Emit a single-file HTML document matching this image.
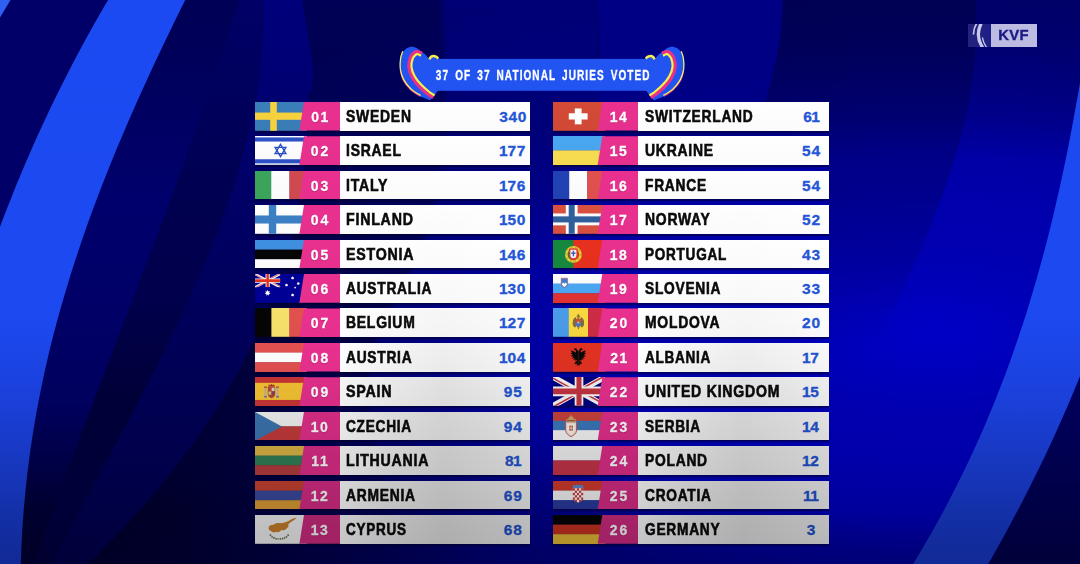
<!DOCTYPE html>
<html lang="en"><head><meta charset="utf-8"><title>Scoreboard</title>
<style>
html,body{margin:0;padding:0;}
body{width:1080px;height:564px;overflow:hidden;position:relative;background:#000056;font-family:"Liberation Sans",sans-serif;}
.bg{position:absolute;left:0;top:0;width:1080px;height:564px;display:block;}
.row{position:absolute;width:275.5px;height:28.8px;}
.rowsh{position:absolute;width:275.5px;height:28.8px;box-shadow:0 1.6px 1.2px rgba(0,0,40,.55);}
.row .flag{position:absolute;left:0;top:0;width:52px;height:28.8px;display:block;}
.row .pink{position:absolute;left:44px;top:0;width:41.5px;height:28.8px;background:#e9308f;clip-path:polygon(5.2px 0,100% 0,100% 100%,0.6px 100%);}
.row .white{position:absolute;left:85px;top:0;right:0;height:28.8px;background:#fff;}
.row .num{position:absolute;left:45.7px;width:39px;top:0;height:28.8px;line-height:30px;text-align:center;color:#fff;font-weight:bold;font-size:15.5px;letter-spacing:2.2px;text-indent:2.2px;-webkit-text-stroke:.3px #fff;text-shadow:0 1px 1px rgba(120,0,70,.45);transform:scaleX(.9);}
.row .name{position:absolute;left:91.6px;top:0;height:28.8px;line-height:29.4px;font-weight:bold;font-size:16.5px;color:#0a0a0a;white-space:nowrap;-webkit-text-stroke:.6px #0a0a0a;letter-spacing:.9px;}
.row .name span{display:inline-block;transform-origin:0 50%;}
.row .dim{position:absolute;left:0;top:0;width:100%;height:100%;}
.row .dimw{position:absolute;left:85px;top:0;right:0;height:100%;}
.row .score{position:absolute;left:232px;width:52px;top:0;height:28.8px;line-height:30px;text-align:center;color:#2456d8;font-weight:bold;font-size:15.5px;letter-spacing:.7px;text-indent:.7px;-webkit-text-stroke:.3px #2456d8;}
.banner{position:absolute;left:396.8px;top:45.600px;width:290px;height:60px;}
.banner svg{position:absolute;left:0;top:0;display:block;}
.btext{position:absolute;left:-105px;top:13.6px;width:500px;height:32px;line-height:32px;text-align:center;color:#fff;font-weight:bold;font-size:14px;letter-spacing:1.5px;text-indent:1.5px;word-spacing:3px;white-space:nowrap;-webkit-text-stroke:.35px #fff;}
.btext span{display:inline-block;transform:scaleX(.716);transform-origin:50% 50%;}
.kvf{position:absolute;left:967.800px;top:23.900px;width:69.200px;height:23px;}
.kvf .kl{position:absolute;left:0;top:0;width:23.200px;height:23px;background:linear-gradient(90deg,#24227c,#1e1e88);overflow:hidden;}
.kvf .kl svg{display:block;}
.kvf .kr{position:absolute;left:23.100px;top:0;width:46.100px;height:23px;background:#bcbce2;text-align:center;line-height:23.400px;color:#1a1a84;font-weight:bold;font-size:14px;}
.kvf .kr span{display:inline-block;transform:scaleX(1.06);letter-spacing:.3px;-webkit-text-stroke:.35px #1a1a84;}
.row .score i{font-style:normal;margin:0 -1px 0 -1.2px;}
.row .num i{font-style:normal;margin:0 -.7px 0 -.5px;}

</style></head>
<body>
<svg class="bg" viewBox="0 0 1080 564" width="1080" height="564">
<defs>
<radialGradient id="gglow" cx="0" cy="0" r="1" gradientUnits="userSpaceOnUse" gradientTransform="translate(935 335) scale(900 380)">
<stop offset="0" stop-color="#0000c6"/><stop offset=".2" stop-color="#0000b0"/><stop offset=".34" stop-color="#0000aa"/><stop offset=".47" stop-color="#0000a0"/><stop offset=".57" stop-color="#000084"/><stop offset=".67" stop-color="#000072"/><stop offset=".8" stop-color="#000060"/><stop offset="1" stop-color="#000056"/>
</radialGradient>
<linearGradient id="gdarkL" x1="60" y1="0" x2="500" y2="0" gradientUnits="userSpaceOnUse">
<stop offset="0" stop-color="#000010" stop-opacity=".55"/><stop offset=".3" stop-color="#000010" stop-opacity=".48"/><stop offset=".65" stop-color="#000010" stop-opacity=".25"/><stop offset="1" stop-color="#000010" stop-opacity="0"/>
</linearGradient>
<linearGradient id="gmaskv" x1="0" y1="0" x2="0" y2="1">
<stop offset=".55" stop-color="#000"/><stop offset=".75" stop-color="#888"/><stop offset=".92" stop-color="#fff"/>
</linearGradient>
<mask id="mL" maskUnits="userSpaceOnUse" x="0" y="0" width="1080" height="564"><rect width="1080" height="564" fill="url(#gmaskv)"/></mask>
<linearGradient id="glb" x1="0" y1="0" x2="0" y2="564" gradientUnits="userSpaceOnUse">
<stop offset="0" stop-color="#1c4af2"/><stop offset=".56" stop-color="#1c49f0"/><stop offset=".71" stop-color="#1b40da"/><stop offset=".96" stop-color="#122c9c"/><stop offset="1" stop-color="#112a96"/>
</linearGradient>
<linearGradient id="gmid" x1="0" y1="0" x2="0" y2="400" gradientUnits="userSpaceOnUse">
<stop offset="0" stop-color="#0000c8" stop-opacity=".12"/><stop offset=".45" stop-color="#0000d0" stop-opacity=".1"/><stop offset=".75" stop-color="#0000d0" stop-opacity=".05"/><stop offset="1" stop-color="#0000d0" stop-opacity="0"/>
</linearGradient>
<linearGradient id="gdkr" x1="0" y1="0" x2="0" y2="345" gradientUnits="userSpaceOnUse">
<stop offset="0" stop-color="#000020" stop-opacity=".14"/><stop offset=".55" stop-color="#000020" stop-opacity=".2"/><stop offset=".8" stop-color="#000020" stop-opacity=".1"/><stop offset="1" stop-color="#000020" stop-opacity="0"/>
</linearGradient>
<linearGradient id="gvig" x1="0" y1="0" x2="0" y2="564" gradientUnits="userSpaceOnUse">
<stop offset=".82" stop-color="#000018" stop-opacity="0"/><stop offset="1" stop-color="#000018" stop-opacity=".07"/>
</linearGradient>
<linearGradient id="gs2b" x1="0" y1="0" x2="1" y2="0">
<stop offset="0" stop-color="#000010" stop-opacity=".27"/><stop offset=".5" stop-color="#000010" stop-opacity=".12"/><stop offset="1" stop-color="#000010" stop-opacity="0"/>
</linearGradient>
<linearGradient id="gdarkC" x1="0" y1="0" x2="0" y2="564" gradientUnits="userSpaceOnUse">
<stop offset="0" stop-color="#000008" stop-opacity="0"/><stop offset=".05" stop-color="#000008" stop-opacity=".02"/><stop offset=".24" stop-color="#000008" stop-opacity=".07"/><stop offset=".42" stop-color="#000008" stop-opacity=".3"/><stop offset=".6" stop-color="#000008" stop-opacity=".34"/><stop offset=".79" stop-color="#000008" stop-opacity=".13"/><stop offset="1" stop-color="#000008" stop-opacity="0"/>
</linearGradient>
<linearGradient id="glightC" x1="0" y1="0" x2="0" y2="265" gradientUnits="userSpaceOnUse">
<stop offset="0" stop-color="#0000c8" stop-opacity=".26"/><stop offset=".25" stop-color="#0000c8" stop-opacity=".25"/><stop offset=".5" stop-color="#0000c8" stop-opacity=".12"/><stop offset=".9" stop-color="#0000c8" stop-opacity="0"/>
</linearGradient>
<filter id="blC" x="-5%" y="-5%" width="110%" height="110%"><feGaussianBlur stdDeviation="2.500"/></filter>
<linearGradient id="gcorner" x1="0" y1="370" x2="0" y2="564" gradientUnits="userSpaceOnUse">
<stop offset="0" stop-color="#00005c"/><stop offset=".3" stop-color="#000056"/><stop offset="1" stop-color="#00003a"/>
</linearGradient>
<linearGradient id="gstripe" x1="0" y1="0" x2="0" y2="564" gradientUnits="userSpaceOnUse">
<stop offset="0" stop-color="#000056"/><stop offset=".06" stop-color="#000058"/><stop offset=".35" stop-color="#00006c"/><stop offset=".53" stop-color="#000068"/><stop offset=".71" stop-color="#00005e"/><stop offset=".82" stop-color="#000046"/><stop offset=".9" stop-color="#000030"/><stop offset="1" stop-color="#000028"/>
</linearGradient>
<linearGradient id="gdk1" x1="0" y1="0" x2="0" y2="564" gradientUnits="userSpaceOnUse">
<stop offset="0" stop-color="#000066"/><stop offset=".06" stop-color="#000064"/><stop offset=".35" stop-color="#000050"/><stop offset=".53" stop-color="#00004c"/><stop offset=".71" stop-color="#000038"/><stop offset=".9" stop-color="#00003a"/><stop offset="1" stop-color="#000032"/>
</linearGradient>
<linearGradient id="gl2" x1="0" y1="0" x2="0" y2="564" gradientUnits="userSpaceOnUse">
<stop offset="0" stop-color="#00007a"/><stop offset=".06" stop-color="#000078"/><stop offset=".35" stop-color="#000066"/><stop offset=".71" stop-color="#000052"/><stop offset=".9" stop-color="#000046"/><stop offset="1" stop-color="#00003c"/>
</linearGradient>
</defs>
<rect width="1080" height="564" fill="#000056"/>
<rect width="1080" height="564" fill="url(#gglow)"/>
<rect width="1080" height="564" fill="url(#gdarkL)" mask="url(#mL)"/>
<path d="M442,-6 C442.3,1.7 443.2,16.8 444.0,40.0 C444.8,63.2 448.0,108.0 447.0,133.0 C446.0,158.0 441.7,172.7 438.0,190.0 C434.3,207.3 431.0,220.3 425.0,237.0 C419.0,253.7 410.2,272.8 402.0,290.0 C393.8,307.2 381.3,323.3 376.0,340.0 C370.7,356.7 370.0,372.5 370.0,390.0 C370.0,407.5 372.3,425.0 376.0,445.0 C379.7,465.0 387.2,489.2 392.0,510.0 C396.8,530.8 402.8,560.0 405.0,570.0 L-6,570 L-6,-6 Z" fill="url(#gdarkC)" filter="url(#blC)"/>
<path d="M442,-6 C442.3,1.7 443.2,16.8 444.0,40.0 C444.8,63.2 448.0,108.0 447.0,133.0 C446.0,158.0 441.7,172.7 438.0,190.0 C434.3,207.3 428.8,224.5 425.0,237.0 C421.2,249.5 416.7,260.3 415.0,265.0 L600,265 L600,-6 Z" fill="url(#glightC)" filter="url(#blC)"/>
<path d="M274.7,290.0 L270.1,302.2 L265.3,314.3 L260.1,326.5 L254.6,338.7 L248.7,350.9 L242.5,363.0 L236.0,375.2 L229.1,387.4 L221.9,399.6 L214.3,411.7 L206.4,423.9 L198.1,436.1 L189.4,448.3 L180.4,460.4 L171.0,472.6 L161.2,484.8 L151.0,497.0 L140.4,509.1 L129.5,521.3 L118.1,533.5 L106.4,545.7 L94.2,557.8 L81.6,570.0 L470,570 L470,290 Z" fill="url(#gs2b)"/>
<path d="M263.5,-6.0 L263.8,6.0 L263.7,18.0 L263.4,30.0 L262.7,42.0 L261.7,54.0 L260.5,66.0 L258.9,78.0 L257.1,90.0 L255.0,102.0 L252.6,114.0 L250.0,126.0 L247.1,138.0 L244.0,150.0 L240.7,162.0 L237.1,174.0 L233.4,186.0 L229.4,198.0 L225.2,210.0 L220.8,222.0 L216.3,234.0 L211.5,246.0 L206.7,258.0 L201.6,270.0 L196.4,282.0 L191.1,294.0 L185.6,306.0 L180.0,318.0 L174.3,330.0 L168.4,342.0 L162.5,354.0 L156.5,366.0 L150.4,378.0 L144.2,390.0 L137.9,402.0 L131.6,414.0 L125.3,426.0 L118.9,438.0 L112.4,450.0 L106.0,462.0 L99.5,474.0 L93.0,486.0 L86.5,498.0 L80.0,510.0 L73.5,522.0 L67.0,534.0 L60.6,546.0 L54.2,558.0 L47.9,570.0 L90,570 L81.6,570.0 L94.2,557.8 L106.4,545.6 L118.1,533.5 L129.5,521.3 L140.5,509.1 L151.0,496.9 L161.2,484.7 L171.0,472.6 L180.4,460.4 L189.5,448.2 L198.1,436.0 L206.4,423.8 L214.4,411.7 L221.9,399.5 L229.2,387.3 L236.0,375.1 L242.6,362.9 L248.8,350.8 L254.6,338.6 L260.1,326.4 L265.3,314.2 L270.2,302.1 L274.8,289.9 L279.0,277.7 L282.9,265.5 L286.6,253.3 L289.9,241.2 L292.9,229.0 L295.7,216.8 L298.1,204.6 L300.3,192.4 L302.2,180.3 L303.8,168.1 L305.2,155.9 L306.3,143.7 L307.1,131.5 L307.7,119.4 L308.0,107.2 L308.1,95.0 C309.7,94.3 314.2,87.5 313.0,71.0 C311.8,54.5 304.2,13.5 302.0,0.0 C299.8,-13.5 300.3,-8.3 300.0,-10.0 Z" fill="url(#gl2)"/>
<path d="M240.9,-6.0 L237.2,6.0 L233.5,18.0 L229.7,30.0 L225.8,42.0 L221.9,54.0 L217.9,66.0 L213.8,78.0 L209.8,90.0 L205.6,102.0 L201.4,114.0 L197.2,126.0 L192.9,138.0 L188.6,150.0 L184.3,162.0 L179.9,174.0 L175.5,186.0 L171.1,198.0 L166.6,210.0 L162.1,222.0 L157.6,234.0 L153.1,246.0 L148.5,258.0 L143.9,270.0 L139.3,282.0 L134.8,294.0 L130.2,306.0 L125.5,318.0 L120.9,330.0 L116.3,342.0 L111.7,354.0 L107.1,366.0 L102.5,378.0 L97.9,390.0 L93.3,402.0 L88.8,414.0 L84.2,426.0 L79.7,438.0 L75.1,450.0 L70.7,462.0 L66.2,474.0 L61.7,486.0 L57.3,498.0 L53.0,510.0 L48.6,522.0 L44.3,534.0 L40.0,546.0 L35.8,558.0 L31.6,570.0 L47.9,570.0 L54.2,558.0 L60.6,546.0 L67.0,534.0 L73.5,522.0 L80.0,510.0 L86.5,498.0 L93.0,486.0 L99.5,474.0 L106.0,462.0 L112.4,450.0 L118.9,438.0 L125.3,426.0 L131.6,414.0 L137.9,402.0 L144.2,390.0 L150.4,378.0 L156.5,366.0 L162.5,354.0 L168.4,342.0 L174.3,330.0 L180.0,318.0 L185.6,306.0 L191.1,294.0 L196.4,282.0 L201.6,270.0 L206.7,258.0 L211.5,246.0 L216.3,234.0 L220.8,222.0 L225.2,210.0 L229.4,198.0 L233.4,186.0 L237.1,174.0 L240.7,162.0 L244.0,150.0 L247.1,138.0 L250.0,126.0 L252.6,114.0 L255.0,102.0 L257.1,90.0 L258.9,78.0 L260.5,66.0 L261.7,54.0 L262.7,42.0 L263.4,30.0 L263.7,18.0 L263.8,6.0 L263.5,-6.0 Z" fill="url(#gdk1)"/>
<path d="M240.9,-6.0 L237.2,6.0 L233.5,18.0 L229.7,30.0 L225.8,42.0 L221.9,54.0 L217.9,66.0 L213.8,78.0 L209.8,90.0 L205.6,102.0 L201.4,114.0 L197.2,126.0 L192.9,138.0 L188.6,150.0 L184.3,162.0 L179.9,174.0 L175.5,186.0 L171.1,198.0 L166.6,210.0 L162.1,222.0 L157.6,234.0 L153.1,246.0 L148.5,258.0 L143.9,270.0 L139.3,282.0 L134.8,294.0 L130.2,306.0 L125.5,318.0 L120.9,330.0 L116.3,342.0 L111.7,354.0 L107.1,366.0 L102.5,378.0 L97.9,390.0 L93.3,402.0 L88.8,414.0 L84.2,426.0 L79.7,438.0 L75.1,450.0 L70.7,462.0 L66.2,474.0 L61.7,486.0 L57.3,498.0 L53.0,510.0 L48.6,522.0 L44.3,534.0 L40.0,546.0 L35.8,558.0 L31.6,570.0 L20.7,570.0 L21.0,558.0 L21.5,546.0 L22.1,534.0 L22.8,522.0 L23.7,510.0 L24.8,498.0 L26.0,486.0 L27.3,474.0 L28.8,462.0 L30.4,450.0 L32.2,438.0 L34.1,426.0 L36.2,414.0 L38.4,402.0 L40.8,390.0 L43.3,378.0 L45.9,366.0 L48.7,354.0 L51.6,342.0 L54.7,330.0 L57.9,318.0 L61.3,306.0 L64.8,294.0 L68.4,282.0 L72.1,270.0 L76.0,258.0 L80.0,246.0 L84.1,234.0 L88.3,222.0 L92.7,210.0 L97.2,198.0 L101.8,186.0 L106.5,174.0 L111.3,162.0 L116.2,150.0 L121.3,138.0 L126.4,126.0 L131.6,114.0 L136.9,102.0 L142.3,90.0 L147.8,78.0 L153.3,66.0 L159.0,54.0 L164.7,42.0 L170.5,30.0 L176.3,18.0 L182.2,6.0 L188.1,-6.0 Z" fill="url(#gstripe)"/>
<path d="M-6,-6 L111.7,-6.0 L104.5,6.1 L97.6,18.1 L90.7,30.2 L84.1,42.2 L77.6,54.2 L71.3,66.3 L65.1,78.4 L59.0,90.4 L53.1,102.5 L47.4,114.5 L41.8,126.6 L36.3,138.6 L30.9,150.7 L25.7,162.7 L20.6,174.8 L15.6,186.8 L10.8,198.9 L6.0,210.9 L1.4,223.0 L-3.1,235.0 L-6,240 Z" fill="#000068"/>
<path d="M596,-10 C596.3,-8.3 597.3,-10.0 598.0,0.0 C598.7,10.0 599.8,32.0 600.0,50.0 C600.2,68.0 599.2,98.3 599.0,108.0 L764,108 C766.4,98.0 775.3,66.0 778.5,48.0 C781.7,30.0 782.1,9.7 783.0,0.0 C783.9,-9.7 783.8,-8.3 784.0,-10.0 Z" fill="#000088" opacity=".92"/>
<path d="M975.1,-6.0 L975.9,6.3 L976.3,18.6 L976.2,30.9 L975.8,43.2 L975.0,55.5 L973.8,67.8 L972.3,80.1 L970.4,92.4 L968.1,104.7 L965.6,117.0 L962.7,129.3 L959.5,141.6 L956.1,153.9 L952.3,166.2 L948.3,178.5 L944.1,190.8 L939.7,203.2 L935.0,215.5 L930.1,227.8 L925.0,240.1 L919.7,252.4 L914.3,264.7 L908.7,277.0 L902.9,289.3 L897.1,301.6 L891.1,313.9 L885.0,326.2 L878.8,338.5 L872.6,350.8 L866.2,363.1 L859.8,375.4 L853.4,387.7 L847.0,400.0 L1095,400 L1095,-6 Z" fill="url(#gmid)"/>
<path d="M975.1,-6.0 L975.9,6.1 L976.3,18.2 L976.2,30.3 L975.9,42.4 L975.1,54.5 L973.9,66.6 L972.5,78.7 L970.6,90.8 L968.5,102.9 L966.0,115.0 L963.2,127.1 L960.2,139.2 L956.8,151.3 L953.2,163.4 L949.3,175.6 L945.2,187.7 L940.9,199.8 L936.4,211.9 L931.6,224.0 L926.7,236.1 L921.5,248.2 L916.2,260.3 L910.8,272.4 L905.2,284.5 L899.5,296.6 L893.6,308.7 L887.7,320.8 L881.6,332.9 L875.5,345.0 L829,345 L829,108 L764,108 C766.4,98.0 775.3,66.0 778.5,48.0 C781.7,30.0 782.1,9.7 783.0,0.0 C783.9,-9.7 783.8,-8.3 784.0,-10.0 Z" fill="url(#gdkr)"/>
<rect width="1080" height="564" fill="url(#gvig)"/>
<path d="M111.7,-6.0 L104.5,6.1 L97.6,18.1 L90.7,30.2 L84.1,42.2 L77.6,54.2 L71.3,66.3 L65.1,78.4 L59.0,90.4 L53.1,102.5 L47.4,114.5 L41.8,126.6 L36.3,138.6 L30.9,150.7 L25.7,162.7 L20.6,174.8 L15.6,186.8 L10.8,198.9 L6.0,210.9 L1.4,223.0 L-3.1,235.0 L-6,240 L-6,570 L20.7,570.0 L21.0,558.0 L21.5,546.0 L22.1,534.0 L22.8,522.0 L23.7,510.0 L24.8,498.0 L26.0,486.0 L27.3,474.0 L28.8,462.0 L30.4,450.0 L32.2,438.0 L34.1,426.0 L36.2,414.0 L38.4,402.0 L40.8,390.0 L43.3,378.0 L45.9,366.0 L48.7,354.0 L51.6,342.0 L54.7,330.0 L57.9,318.0 L61.3,306.0 L64.8,294.0 L68.4,282.0 L72.1,270.0 L76.0,258.0 L80.0,246.0 L84.1,234.0 L88.3,222.0 L92.7,210.0 L97.2,198.0 L101.8,186.0 L106.5,174.0 L111.3,162.0 L116.2,150.0 L121.3,138.0 L126.4,126.0 L131.6,114.0 L136.9,102.0 L142.3,90.0 L147.8,78.0 L153.3,66.0 L159.0,54.0 L164.7,42.0 L170.5,30.0 L176.3,18.0 L182.2,6.0 L188.1,-6.0 Z" fill="url(#glb)"/>
<path d="M0,0 L10.500,0 L0,17.500 Z" fill="#2f60f2"/>
<path d="M1082.1,70.0 L1080.1,82.2 L1078.0,94.4 L1075.8,106.6 L1073.6,118.8 L1071.3,131.0 L1069.0,143.2 L1066.5,155.4 L1064.0,167.6 L1061.4,179.8 L1058.7,192.0 L1055.9,204.1 L1053.1,216.3 L1050.1,228.5 L1047.0,240.7 L1043.8,252.9 L1040.5,265.1 L1037.1,277.3 L1033.5,289.5 L1029.9,301.7 L1026.1,313.9 L1022.2,326.1 L1018.1,338.3 L1013.9,350.5 L1009.6,362.7 L1005.1,374.9 L1000.4,387.1 L995.6,399.3 L990.6,411.5 L985.5,423.7 L980.2,435.9 L974.7,448.0 L969.1,460.2 L963.2,472.4 L957.2,484.6 L951.0,496.8 L944.6,509.0 L938.0,521.2 L931.1,533.4 L924.1,545.6 L916.9,557.8 L909.5,570.0 L984.9,570.0 L992.1,557.5 L999.1,545.0 L1006.0,532.5 L1012.7,520.0 L1019.4,507.5 L1025.8,495.0 L1032.1,482.5 L1038.3,470.0 L1044.4,457.5 L1050.3,445.0 L1056.0,432.5 L1061.6,420.0 L1067.1,407.5 L1072.4,395.0 L1077.6,382.5 L1082.7,370.0 L1090,370 L1090,70 Z" fill="url(#glb)"/>
<path d="M984.9,570.0 L992.1,557.5 L999.1,545.0 L1006.0,532.5 L1012.7,520.0 L1019.4,507.5 L1025.8,495.0 L1032.1,482.5 L1038.3,470.0 L1044.4,457.5 L1050.3,445.0 L1056.0,432.5 L1061.6,420.0 L1067.1,407.5 L1072.4,395.0 L1077.6,382.5 L1082.7,370.0 L1090,370 L1090,580 Z" fill="url(#gcorner)"/>
</svg>
<div class="banner">
<svg viewBox="0 0 290 60" width="290" height="60">
<defs>
<g id="heart">
<path d="M32.8,54.4 C31.7,53.9 28.2,52.6 26.0,51.6 C23.8,50.6 22.0,50.2 19.5,48.5 C17.0,46.8 13.5,43.9 11.0,41.1 C8.5,38.3 6.0,35.4 4.6,31.5 C3.2,27.6 2.7,21.5 2.7,17.7 C2.7,13.9 3.5,11.0 4.6,8.5 C5.6,6.0 7.4,4.1 9.0,2.8 C10.6,1.5 12.5,0.9 14.2,0.7 C15.9,0.5 17.6,1.2 19.0,1.8 C20.4,2.4 21.0,3.2 22.7,4.4 C24.4,5.6 27.6,7.7 29.1,9.2 C30.6,10.7 31.4,12.5 31.9,13.2 C32.1,12.8 32.6,11.3 33.4,10.6 C34.2,9.9 35.4,9.2 36.5,9.2 C37.6,9.2 39.0,9.8 40.0,10.4 C41.0,11.0 42.1,12.5 42.5,12.9 L42.5,44.8 L40.2,45.2 C39.8,45.9 38.7,48.0 37.5,49.5 C36.3,51.0 33.6,53.6 32.8,54.4 Z" fill="#2254f2"/>
<path d="M3.2,24 C3.7,25.7 4.5,30.9 6.2,34.2 C7.9,37.5 10.8,41.1 13.6,43.8 C16.4,46.5 21.4,49.1 23.0,50.2" fill="none" stroke="#e9308f" stroke-width="1.1"/>
<path d="M5.8,5.2 C5.4,6.4 4.0,9.4 3.6,12.4 C3.2,15.4 2.8,19.5 3.3,23.0 C3.8,26.5 4.9,30.2 6.7,33.6 C8.5,37.0 11.4,40.6 14.2,43.2 C17.0,45.8 22.1,48.4 23.7,49.4" fill="none" stroke="#f7f060" stroke-width="1.25"/>
<path d="M25,7.2 C24.3,6.9 22.3,5.7 21.0,5.6 C19.7,5.5 18.6,5.5 17.3,6.5 C16.0,7.5 14.3,9.1 13.4,11.5 C12.5,13.9 11.5,17.6 11.8,20.9 C12.1,24.2 13.6,28.1 15.4,31.5 C17.2,34.9 20.3,38.3 22.9,41.1 C25.5,43.9 29.0,46.5 31.2,48.3 C33.4,50.0 35.4,51.0 36.2,51.6" fill="none" stroke="#ea2f86" stroke-width="3.3"/>
<path d="M24.03,9.61 C23.5,9.4 21.6,8.4 20.8,8.2 C19.9,8.0 19.7,7.8 18.9,8.6 C18.1,9.3 16.6,10.4 15.8,12.4 C15.1,14.4 14.1,17.7 14.4,20.6 C14.7,23.6 15.9,27.1 17.7,30.2 C19.4,33.4 22.3,36.7 24.8,39.3 C27.3,42.0 30.7,44.6 32.8,46.3 C35.0,47.9 36.8,48.9 37.6,49.4" fill="none" stroke="#f8f04a" stroke-width="2.2"/>
<path d="M32.4,13.4 C32.6,13.0 33.1,11.6 33.8,11.0 C34.5,10.4 35.5,9.9 36.5,9.9 C37.5,9.9 38.7,10.5 39.5,10.9 C40.3,11.3 40.9,12.3 41.2,12.6" fill="none" stroke="#f4ee50" stroke-width="2.5"/>
</g>
</defs>
<rect x="40" y="12.9" width="210" height="31.9" fill="#2254f2"/>
<use href="#heart"/>
<use href="#heart" transform="translate(290,0) scale(-1,1)"/>
</svg>
<div class="btext"><span>37 OF 37 NATIONAL JURIES VOTED</span></div>
</div>

<div class="rowsh" style="left:254.8px;top:101.8px"></div><div class="row" style="left:254.8px;top:101.8px">
<svg class="flag" viewBox="0 0 52 28.6" preserveAspectRatio="none"><rect x="0" y="0" width="52" height="28.6" fill="#3a7db8"/><rect x="15.2" y="0" width="6.6" height="28.6" fill="#f7d23e"/><rect x="0" y="10.5" width="52" height="7.2" fill="#f7d23e"/></svg>
<div class="pink" style="background:rgb(233,48,143)"></div><div class="white"></div>
<div class="num">0<i>1</i></div><div class="name"><span style="transform:scaleX(0.8442)">SWEDEN</span></div><div class="score">340</div>
<div class="dim" style="background:linear-gradient(180deg,rgba(0,0,8,0.000),rgba(0,0,8,0.012))"></div><div class="dimw" style="background:linear-gradient(90deg,rgba(0,0,0,0) 0%,rgba(0,0,0,0.002) 25%,rgba(0,0,0,0.004) 55%,rgba(0,0,0,0.002) 80%,rgba(0,0,0,0.000) 100%)"></div>
</div>
<div class="rowsh" style="left:254.8px;top:136.2px"></div><div class="row" style="left:254.8px;top:136.2px">
<svg class="flag" viewBox="0 0 52 28.6" preserveAspectRatio="none"><rect x="0" y="0" width="52" height="28.6" fill="#fdfdfd"/><rect x="0" y="1.4" width="52" height="4.1" fill="#2c50c6"/><rect x="0" y="23.1" width="52" height="4.1" fill="#2c50c6"/><g fill="none" stroke="#2c50c6" stroke-width="1.400"><polygon points="25.500,8.400 30.900,17.500 20.100,17.500"/><polygon points="25.500,20.400 30.900,11.300 20.100,11.300"/></g></svg>
<div class="pink" style="background:rgb(233,48,143)"></div><div class="white"></div>
<div class="num">02</div><div class="name"><span style="transform:scaleX(0.8448)">ISRAEL</span></div><div class="score"><i>1</i>77</div>
<div class="dim" style="background:linear-gradient(180deg,rgba(0,0,8,0.000),rgba(0,0,8,0.012))"></div><div class="dimw" style="background:linear-gradient(90deg,rgba(0,0,0,0) 0%,rgba(0,0,0,0.002) 25%,rgba(0,0,0,0.004) 55%,rgba(0,0,0,0.002) 80%,rgba(0,0,0,0.000) 100%)"></div>
</div>
<div class="rowsh" style="left:254.8px;top:170.6px"></div><div class="row" style="left:254.8px;top:170.6px">
<svg class="flag" viewBox="0 0 52 28.6" preserveAspectRatio="none"><rect x="0" y="0" width="16.5" height="28.6" fill="#3aa55a"/><rect x="16.2" y="0" width="18.5" height="28.6" fill="#fdfdfd"/><rect x="34.4" y="0" width="18.3" height="28.6" fill="#cf4a50"/></svg>
<div class="pink" style="background:rgb(233,48,143)"></div><div class="white"></div>
<div class="num">03</div><div class="name"><span style="transform:scaleX(0.8528)">ITALY</span></div><div class="score"><i>1</i>76</div>
<div class="dim" style="background:linear-gradient(180deg,rgba(0,0,8,0.000),rgba(0,0,8,0.012))"></div><div class="dimw" style="background:linear-gradient(90deg,rgba(0,0,0,0) 0%,rgba(0,0,0,0.002) 25%,rgba(0,0,0,0.004) 55%,rgba(0,0,0,0.002) 80%,rgba(0,0,0,0.000) 100%)"></div>
</div>
<div class="rowsh" style="left:254.8px;top:205.1px"></div><div class="row" style="left:254.8px;top:205.1px">
<svg class="flag" viewBox="0 0 52 28.6" preserveAspectRatio="none"><rect x="0" y="0" width="52" height="28.6" fill="#fdfdfd"/><rect x="13.8" y="0" width="7.4" height="28.6" fill="#3b7fc4"/><rect x="0" y="10.4" width="52" height="8" fill="#3b7fc4"/></svg>
<div class="pink" style="background:rgb(233,48,143)"></div><div class="white"></div>
<div class="num">04</div><div class="name"><span style="transform:scaleX(0.8598)">FINLAND</span></div><div class="score"><i>1</i>50</div>
<div class="dim" style="background:linear-gradient(180deg,rgba(0,0,8,0.000),rgba(0,0,8,0.012))"></div><div class="dimw" style="background:linear-gradient(90deg,rgba(0,0,0,0) 0%,rgba(0,0,0,0.004) 25%,rgba(0,0,0,0.008) 55%,rgba(0,0,0,0.004) 80%,rgba(0,0,0,0.000) 100%)"></div>
</div>
<div class="rowsh" style="left:254.8px;top:239.5px"></div><div class="row" style="left:254.8px;top:239.5px">
<svg class="flag" viewBox="0 0 52 28.6" preserveAspectRatio="none"><rect x="0" y="0" width="52" height="9.83" fill="#3f8fe0"/><rect x="0" y="9.53" width="52" height="9.83" fill="#050505"/><rect x="0" y="19.07" width="52" height="9.83" fill="#fdfdfd"/></svg>
<div class="pink" style="background:rgb(233,48,143)"></div><div class="white"></div>
<div class="num">05</div><div class="name"><span style="transform:scaleX(0.8605)">ESTONIA</span></div><div class="score"><i>1</i>46</div>
<div class="dim" style="background:linear-gradient(180deg,rgba(0,0,8,0.000),rgba(0,0,8,0.012))"></div><div class="dimw" style="background:linear-gradient(90deg,rgba(0,0,0,0) 0%,rgba(0,0,0,0.004) 25%,rgba(0,0,0,0.008) 55%,rgba(0,0,0,0.004) 80%,rgba(0,0,0,0.000) 100%)"></div>
</div>
<div class="rowsh" style="left:254.8px;top:273.9px"></div><div class="row" style="left:254.8px;top:273.9px">
<svg class="flag" viewBox="0 0 52 28.6" preserveAspectRatio="none"><rect x="0" y="0" width="52" height="28.6" fill="#000096"/><svg x="0" y="0" width="25.3" height="13.2" viewBox="0 0 60 30" preserveAspectRatio="none"><rect width="60" height="30" fill="#000096"/><path d="M0,0 L60,30 M60,0 L0,30" stroke="#f4f4f4" stroke-width="5.5"/><path d="M0,1.2 L27.600,15 M60,-1.2 L32.400,12.600 M0,31.200 L27.600,17.400 M60,28.800 L32.400,15" stroke="#e2321e" stroke-width="1.6"/><path d="M30,0 V30 M0,15 H60" stroke="#f4f4f4" stroke-width="10"/><path d="M30,0 V30 M0,15 H60" stroke="#e2321e" stroke-width="5.800"/></svg><polygon points="12.60,15.70 13.27,17.40 15.02,16.87 14.11,18.46 15.62,19.49 13.81,19.77 13.95,21.59 12.60,20.35 11.25,21.59 11.39,19.77 9.58,19.49 11.09,18.46 10.18,16.87 11.93,17.40" fill="#fff"/><polygon points="37.60,2.30 38.04,3.08 38.93,2.94 38.59,3.77 39.26,4.38 38.40,4.64 38.34,5.53 37.60,5.02 36.86,5.53 36.80,4.64 35.94,4.38 36.61,3.77 36.27,2.94 37.16,3.08" fill="#fff"/><polygon points="31.50,9.30 31.94,10.08 32.83,9.94 32.49,10.77 33.16,11.38 32.30,11.64 32.24,12.53 31.50,12.02 30.76,12.53 30.70,11.64 29.84,11.38 30.51,10.77 30.17,9.94 31.06,10.08" fill="#fff"/><polygon points="43.30,7.80 43.74,8.58 44.63,8.44 44.29,9.27 44.96,9.88 44.10,10.14 44.04,11.03 43.30,10.52 42.56,11.03 42.50,10.14 41.64,9.88 42.31,9.27 41.97,8.44 42.86,8.58" fill="#fff"/><polygon points="37.60,19.20 38.04,19.98 38.93,19.84 38.59,20.67 39.26,21.28 38.40,21.54 38.34,22.43 37.60,21.92 36.86,22.43 36.80,21.54 35.94,21.28 36.61,20.67 36.27,19.84 37.16,19.98" fill="#fff"/><polygon points="40.10,12.40 40.49,12.97 41.15,13.16 40.73,13.70 40.75,14.39 40.10,14.16 39.45,14.39 39.47,13.70 39.05,13.16 39.71,12.97" fill="#fff"/></svg>
<div class="pink" style="background:rgb(233,48,143)"></div><div class="white"></div>
<div class="num">06</div><div class="name"><span style="transform:scaleX(0.8326)">AUSTRALIA</span></div><div class="score"><i>1</i>30</div>
<div class="dim" style="background:linear-gradient(180deg,rgba(0,0,8,0.000),rgba(0,0,8,0.012))"></div><div class="dimw" style="background:linear-gradient(90deg,rgba(0,0,0,0) 0%,rgba(0,0,0,0.009) 25%,rgba(0,0,0,0.016) 55%,rgba(0,0,0,0.010) 80%,rgba(0,0,0,0.004) 100%)"></div>
</div>
<div class="rowsh" style="left:254.8px;top:308.4px"></div><div class="row" style="left:254.8px;top:308.4px">
<svg class="flag" viewBox="0 0 52 28.6" preserveAspectRatio="none"><rect x="0" y="0" width="16.7" height="28.6" fill="#050505"/><rect x="16.4" y="0" width="18.3" height="28.6" fill="#f6e06c"/><rect x="34.4" y="0" width="18.3" height="28.6" fill="#e0504f"/></svg>
<div class="pink" style="background:rgb(233,48,143)"></div><div class="white"></div>
<div class="num">07</div><div class="name"><span style="transform:scaleX(0.8444)">BELGIUM</span></div><div class="score"><i>1</i>27</div>
<div class="dim" style="background:linear-gradient(180deg,rgba(0,0,8,0.000),rgba(0,0,8,0.012))"></div><div class="dimw" style="background:linear-gradient(90deg,rgba(0,0,0,0) 0%,rgba(0,0,0,0.019) 25%,rgba(0,0,0,0.035) 55%,rgba(0,0,0,0.024) 80%,rgba(0,0,0,0.012) 100%)"></div>
</div>
<div class="rowsh" style="left:254.8px;top:342.8px"></div><div class="row" style="left:254.8px;top:342.8px">
<svg class="flag" viewBox="0 0 52 28.6" preserveAspectRatio="none"><rect x="0" y="0" width="52" height="9.83" fill="#e0504f"/><rect x="0" y="9.53" width="52" height="9.83" fill="#fdfdfd"/><rect x="0" y="19.07" width="52" height="9.83" fill="#e0504f"/></svg>
<div class="pink" style="background:rgb(232,48,142)"></div><div class="white"></div>
<div class="num">08</div><div class="name"><span style="transform:scaleX(0.8328)">AUSTRIA</span></div><div class="score"><i>1</i>04</div>
<div class="dim" style="background:linear-gradient(180deg,rgba(0,0,8,0.000),rgba(0,0,8,0.024))"></div><div class="dimw" style="background:linear-gradient(90deg,rgba(0,0,0,0) 0%,rgba(0,0,0,0.035) 25%,rgba(0,0,0,0.063) 55%,rgba(0,0,0,0.044) 80%,rgba(0,0,0,0.024) 100%)"></div>
</div>
<div class="rowsh" style="left:254.8px;top:377.3px"></div><div class="row" style="left:254.8px;top:377.3px">
<svg class="flag" viewBox="0 0 52 28.6" preserveAspectRatio="none"><rect x="0" y="0" width="52" height="6.1" fill="#c93535"/><rect x="0" y="5.8" width="52" height="17.3" fill="#f4c232"/><rect x="0" y="22.8" width="52" height="6.1" fill="#c93535"/><g><rect x="9.6" y="10.4" width="1.8" height="8.8" fill="#b8b0a0"/><rect x="21.6" y="10.4" width="1.8" height="8.8" fill="#b8b0a0"/><rect x="9" y="9.4" width="3" height="1.4" fill="#b05a3a"/><rect x="21" y="9.4" width="3" height="1.4" fill="#b05a3a"/><rect x="9" y="18.8" width="3" height="1.6" fill="#6a7ab0"/><rect x="21" y="18.8" width="3" height="1.6" fill="#6a7ab0"/><path d="M12.8,10 h7.400 v6.800 c0,2.400 -1.800,3.800 -3.700,4.200 c-1.900,-0.400 -3.700,-1.800 -3.700,-4.200 z" fill="#a84a30"/><rect x="13.400" y="10.600" width="3" height="3.400" fill="#c04a3a"/><rect x="16.600" y="10.600" width="3" height="3.400" fill="#d8d0c0"/><rect x="13.400" y="14.400" width="3" height="3.200" fill="#d8c070"/><rect x="16.600" y="14.400" width="3" height="3.200" fill="#8a3a70"/><path d="M13.200,9.800 l0.600,-2.600 l1.300,1 l1.400,-1.400 l1.400,1.400 l1.300,-1 l0.600,2.600 z" fill="#a83a2a"/></g></svg>
<div class="pink" style="background:rgb(228,47,140)"></div><div class="white"></div>
<div class="num">09</div><div class="name"><span style="transform:scaleX(0.8643)">SPAIN</span></div><div class="score">95</div>
<div class="dim" style="background:linear-gradient(180deg,rgba(0,0,8,0.039),rgba(0,0,8,0.063))"></div><div class="dimw" style="background:linear-gradient(90deg,rgba(0,0,0,0) 0%,rgba(0,0,0,0.045) 25%,rgba(0,0,0,0.083) 55%,rgba(0,0,0,0.058) 80%,rgba(0,0,0,0.033) 100%)"></div>
</div>
<div class="rowsh" style="left:254.8px;top:411.7px"></div><div class="row" style="left:254.8px;top:411.7px">
<svg class="flag" viewBox="0 0 52 28.6" preserveAspectRatio="none"><rect x="0" y="0" width="52" height="14.5" fill="#f2f2f2"/><rect x="0" y="14.3" width="52" height="14.3" fill="#c23a3a"/><polygon points="0,0 27,14.3 0,28.6" fill="#3b74ae"/></svg>
<div class="pink" style="background:rgb(224,46,137)"></div><div class="white"></div>
<div class="num"><i>1</i>0</div><div class="name"><span style="transform:scaleX(0.8271)">CZECHIA</span></div><div class="score">94</div>
<div class="dim" style="background:linear-gradient(180deg,rgba(0,0,8,0.078),rgba(0,0,8,0.102))"></div><div class="dimw" style="background:linear-gradient(90deg,rgba(0,0,0,0) 0%,rgba(0,0,0,0.057) 25%,rgba(0,0,0,0.103) 55%,rgba(0,0,0,0.073) 80%,rgba(0,0,0,0.043) 100%)"></div>
</div>
<div class="rowsh" style="left:254.8px;top:446.1px"></div><div class="row" style="left:254.8px;top:446.1px">
<svg class="flag" viewBox="0 0 52 28.6" preserveAspectRatio="none"><rect x="0" y="0" width="52" height="9.83" fill="#dcb544"/><rect x="0" y="9.53" width="52" height="9.83" fill="#2f7f55"/><rect x="0" y="19.07" width="52" height="9.83" fill="#b33c3c"/></svg>
<div class="pink" style="background:rgb(219,45,134)"></div><div class="white"></div>
<div class="num"><i>1</i><i>1</i></div><div class="name"><span style="transform:scaleX(0.8585)">LITHUANIA</span></div><div class="score">8<i>1</i></div>
<div class="dim" style="background:linear-gradient(180deg,rgba(0,0,8,0.117),rgba(0,0,8,0.141))"></div><div class="dimw" style="background:linear-gradient(90deg,rgba(0,0,0,0) 0%,rgba(0,0,0,0.059) 25%,rgba(0,0,0,0.108) 55%,rgba(0,0,0,0.081) 80%,rgba(0,0,0,0.054) 100%)"></div>
</div>
<div class="rowsh" style="left:254.8px;top:480.6px"></div><div class="row" style="left:254.8px;top:480.6px">
<svg class="flag" viewBox="0 0 52 28.6" preserveAspectRatio="none"><rect x="0" y="0" width="52" height="9.83" fill="#c8422f"/><rect x="0" y="9.53" width="52" height="9.83" fill="#3a4a9c"/><rect x="0" y="19.07" width="52" height="9.83" fill="#dc9c34"/></svg>
<div class="pink" style="background:rgb(214,44,131)"></div><div class="white"></div>
<div class="num"><i>1</i>2</div><div class="name"><span style="transform:scaleX(0.838)">ARMENIA</span></div><div class="score">69</div>
<div class="dim" style="background:linear-gradient(180deg,rgba(0,0,8,0.161),rgba(0,0,8,0.185))"></div><div class="dimw" style="background:linear-gradient(90deg,rgba(0,0,0,0) 0%,rgba(0,0,0,0.063) 25%,rgba(0,0,0,0.114) 55%,rgba(0,0,0,0.088) 80%,rgba(0,0,0,0.062) 100%)"></div>
</div>
<div class="rowsh" style="left:254.8px;top:515.0px"></div><div class="row" style="left:254.8px;top:515.0px">
<svg class="flag" viewBox="0 0 52 28.6" preserveAspectRatio="none"><rect x="0" y="0" width="52" height="28.6" fill="#f4f4f4"/><path d="M13.600,12.400 C14,10.500 16.500,9.500 18.500,9.800 C20,8 23,7.600 25,8.200 C28,7.800 31,7 34,5.600 C36.500,4.400 39,3.200 41.600,2.600 C40.500,4.400 38,5.800 36,7 C34.500,8 33.500,9 33,10 C34,11 33.600,12.400 32,12.800 C31,14.600 28.500,15.600 26.400,15 C25,16.800 22.600,17.600 21,16.600 C19.600,17.800 17,17.600 16,16 C14.400,15.400 13.200,14 13.600,12.400 Z" fill="#c9822a"/><path d="M15,19.400 C17,22.600 21,24 23.600,23.600 M24.600,23.600 C27.400,24 31.600,22.600 33.600,19.400" fill="none" stroke="#66764a" stroke-width="1.700" stroke-dasharray="1.500 0.700"/></svg>
<div class="pink" style="background:rgb(207,43,127)"></div><div class="white"></div>
<div class="num"><i>1</i>3</div><div class="name"><span style="transform:scaleX(0.8183)">CYPRUS</span></div><div class="score">68</div>
<div class="dim" style="background:linear-gradient(180deg,rgba(0,0,8,0.204),rgba(0,0,8,0.228))"></div><div class="dimw" style="background:linear-gradient(90deg,rgba(0,0,0,0) 0%,rgba(0,0,0,0.066) 25%,rgba(0,0,0,0.120) 55%,rgba(0,0,0,0.095) 80%,rgba(0,0,0,0.070) 100%)"></div>
</div>
<div class="rowsh" style="left:553.1px;top:101.8px"></div><div class="row" style="left:553.1px;top:101.8px">
<svg class="flag" viewBox="0 0 52 28.6" preserveAspectRatio="none"><rect x="0" y="0" width="52" height="28.6" fill="#d34a36"/><rect x="15.8" y="11.2" width="18.8" height="6.2" fill="#fdfdfd"/><rect x="21.8" y="6.4" width="6.8" height="15.8" fill="#fdfdfd"/></svg>
<div class="pink" style="background:rgb(233,48,143)"></div><div class="white"></div>
<div class="num"><i>1</i>4</div><div class="name"><span style="transform:scaleX(0.8346)">SWITZERLAND</span></div><div class="score">6<i>1</i></div>
<div class="dim" style="background:linear-gradient(180deg,rgba(0,0,8,0.000),rgba(0,0,8,0.012))"></div><div class="dimw" style="background:linear-gradient(90deg,rgba(0,0,0,0) 0%,rgba(0,0,0,0.002) 25%,rgba(0,0,0,0.004) 55%,rgba(0,0,0,0.002) 80%,rgba(0,0,0,0.000) 100%)"></div>
</div>
<div class="rowsh" style="left:553.1px;top:136.2px"></div><div class="row" style="left:553.1px;top:136.2px">
<svg class="flag" viewBox="0 0 52 28.6" preserveAspectRatio="none"><rect x="0" y="0" width="52" height="14.6" fill="#49a6f0"/><rect x="0" y="14.3" width="52" height="14.6" fill="#f8dc50"/></svg>
<div class="pink" style="background:rgb(233,48,143)"></div><div class="white"></div>
<div class="num"><i>1</i>5</div><div class="name"><span style="transform:scaleX(0.8444)">UKRAINE</span></div><div class="score">54</div>
<div class="dim" style="background:linear-gradient(180deg,rgba(0,0,8,0.000),rgba(0,0,8,0.012))"></div><div class="dimw" style="background:linear-gradient(90deg,rgba(0,0,0,0) 0%,rgba(0,0,0,0.002) 25%,rgba(0,0,0,0.004) 55%,rgba(0,0,0,0.002) 80%,rgba(0,0,0,0.000) 100%)"></div>
</div>
<div class="rowsh" style="left:553.1px;top:170.6px"></div><div class="row" style="left:553.1px;top:170.6px">
<svg class="flag" viewBox="0 0 52 28.6" preserveAspectRatio="none"><rect x="0" y="0" width="16.5" height="28.6" fill="#2142b4"/><rect x="16.2" y="0" width="18.3" height="28.6" fill="#fdfdfd"/><rect x="34.2" y="0" width="18.3" height="28.6" fill="#e0504f"/></svg>
<div class="pink" style="background:rgb(233,48,143)"></div><div class="white"></div>
<div class="num"><i>1</i>6</div><div class="name"><span style="transform:scaleX(0.8339)">FRANCE</span></div><div class="score">54</div>
<div class="dim" style="background:linear-gradient(180deg,rgba(0,0,8,0.000),rgba(0,0,8,0.012))"></div><div class="dimw" style="background:linear-gradient(90deg,rgba(0,0,0,0) 0%,rgba(0,0,0,0.002) 25%,rgba(0,0,0,0.004) 55%,rgba(0,0,0,0.002) 80%,rgba(0,0,0,0.000) 100%)"></div>
</div>
<div class="rowsh" style="left:553.1px;top:205.1px"></div><div class="row" style="left:553.1px;top:205.1px">
<svg class="flag" viewBox="0 0 52 28.6" preserveAspectRatio="none"><rect x="0" y="0" width="52" height="28.6" fill="#d9503f"/><rect x="12.8" y="0" width="11.8" height="28.6" fill="#fdfdfd"/><rect x="0" y="8.4" width="52" height="11.8" fill="#fdfdfd"/><rect x="15.7" y="0" width="6" height="28.6" fill="#2f5f9c"/><rect x="0" y="11.3" width="52" height="6" fill="#2f5f9c"/></svg>
<div class="pink" style="background:rgb(233,48,143)"></div><div class="white"></div>
<div class="num"><i>1</i>7</div><div class="name"><span style="transform:scaleX(0.8433)">NORWAY</span></div><div class="score">52</div>
<div class="dim" style="background:linear-gradient(180deg,rgba(0,0,8,0.000),rgba(0,0,8,0.012))"></div><div class="dimw" style="background:linear-gradient(90deg,rgba(0,0,0,0) 0%,rgba(0,0,0,0.004) 25%,rgba(0,0,0,0.008) 55%,rgba(0,0,0,0.004) 80%,rgba(0,0,0,0.000) 100%)"></div>
</div>
<div class="rowsh" style="left:553.1px;top:239.5px"></div><div class="row" style="left:553.1px;top:239.5px">
<svg class="flag" viewBox="0 0 52 28.6" preserveAspectRatio="none"><rect x="0" y="0" width="52" height="28.6" fill="#e8301e"/><rect x="0" y="0" width="20.4" height="28.6" fill="#16883e"/><circle cx="20.400" cy="14.300" r="7.100" fill="none" stroke="#e6cf3a" stroke-width="2.600"/><circle cx="20.400" cy="14.300" r="7.100" fill="none" stroke="#9a8a28" stroke-width="2.600" stroke-dasharray="1.200 3.200" opacity=".55"/><path d="M16,8.400 h8.800 v7.200 a4.400,4.600 0 0 1 -8.800,0 z" fill="#e0362a"/><path d="M17.400,9.600 h6 v5.400 a3,3.200 0 0 1 -6,0 z" fill="#f6f6f6"/><rect x="19.700" y="10.600" width="1.400" height="5.600" fill="#3a5ab8"/><rect x="18.200" y="12.400" width="4.400" height="1.400" fill="#3a5ab8"/></svg>
<div class="pink" style="background:rgb(233,48,143)"></div><div class="white"></div>
<div class="num"><i>1</i>8</div><div class="name"><span style="transform:scaleX(0.8214)">PORTUGAL</span></div><div class="score">43</div>
<div class="dim" style="background:linear-gradient(180deg,rgba(0,0,8,0.000),rgba(0,0,8,0.012))"></div><div class="dimw" style="background:linear-gradient(90deg,rgba(0,0,0,0) 0%,rgba(0,0,0,0.004) 25%,rgba(0,0,0,0.008) 55%,rgba(0,0,0,0.004) 80%,rgba(0,0,0,0.000) 100%)"></div>
</div>
<div class="rowsh" style="left:553.1px;top:273.9px"></div><div class="row" style="left:553.1px;top:273.9px">
<svg class="flag" viewBox="0 0 52 28.6" preserveAspectRatio="none"><rect x="0" y="0" width="52" height="9.83" fill="#fbfbfb"/><rect x="0" y="9.53" width="52" height="9.83" fill="#4aa6f2"/><rect x="0" y="19.07" width="52" height="9.83" fill="#e03232"/><path d="M8.2,4.2 h6.4 v5 c0,2.6 -2,3.8 -3.2,4.2 c-1.2,-0.4 -3.2,-1.6 -3.2,-4.2 z" fill="#3a7fd0" stroke="#d84040" stroke-width="0.5"/><path d="M8.8,10 l1.4,-1.6 l1.2,1.2 l1.2,-1.2 l1.4,1.6 c-0.4,1.6 -1.6,2.4 -2.6,2.8 c-1,-0.4 -2.2,-1.2 -2.6,-2.8 z" fill="#fdfdfd"/></svg>
<div class="pink" style="background:rgb(233,48,143)"></div><div class="white"></div>
<div class="num"><i>1</i>9</div><div class="name"><span style="transform:scaleX(0.8333)">SLOVENIA</span></div><div class="score">33</div>
<div class="dim" style="background:linear-gradient(180deg,rgba(0,0,8,0.000),rgba(0,0,8,0.012))"></div><div class="dimw" style="background:linear-gradient(90deg,rgba(0,0,0,0) 0%,rgba(0,0,0,0.009) 25%,rgba(0,0,0,0.016) 55%,rgba(0,0,0,0.010) 80%,rgba(0,0,0,0.004) 100%)"></div>
</div>
<div class="rowsh" style="left:553.1px;top:308.4px"></div><div class="row" style="left:553.1px;top:308.4px">
<svg class="flag" viewBox="0 0 52 28.6" preserveAspectRatio="none"><rect x="0" y="0" width="16.1" height="28.6" fill="#4a9be8"/><rect x="15.8" y="0" width="19.5" height="28.6" fill="#f8d840"/><rect x="35.0" y="0" width="17.3" height="28.6" fill="#cc2c44"/><g><path d="M23,9.200 C20.600,9.600 19.400,12.600 19.800,16.200 C20,17.800 20.800,19 22,19.600 L23.600,16.800 L23.200,11.400 Z" fill="#7d6a3c"/><path d="M27.800,9.200 C30.200,9.600 31.400,12.600 31,16.200 C30.800,17.800 30,19 28.800,19.600 L27.200,16.800 L27.600,11.400 Z" fill="#7d6a3c"/><path d="M24.600,6.200 h1.600 v1.400 h1 v1.200 h-1 l0.400,2 h-2.400 l0.400,-2 h-1 v-1.200 h1 z" fill="#8a6a34"/><path d="M22.800,10.800 h5.200 v5 c0,1.800 -1.400,2.800 -2.600,3.200 c-1.200,-0.400 -2.600,-1.400 -2.600,-3.200 z" fill="#c8503c"/><path d="M22.800,14.200 h5.200 v1.600 c0,1.800 -1.400,2.800 -2.600,3.200 c-1.200,-0.400 -2.600,-1.400 -2.600,-3.200 z" fill="#4a78c0"/><path d="M24.200,19 l1.200,2.400 l1.200,-2.400 z" fill="#7d6a3c"/><circle cx="25.400" cy="14.400" r="1" fill="#e8c860"/></g></svg>
<div class="pink" style="background:rgb(233,48,143)"></div><div class="white"></div>
<div class="num">20</div><div class="name"><span style="transform:scaleX(0.8428)">MOLDOVA</span></div><div class="score">20</div>
<div class="dim" style="background:linear-gradient(180deg,rgba(0,0,8,0.000),rgba(0,0,8,0.012))"></div><div class="dimw" style="background:linear-gradient(90deg,rgba(0,0,0,0) 0%,rgba(0,0,0,0.019) 25%,rgba(0,0,0,0.035) 55%,rgba(0,0,0,0.024) 80%,rgba(0,0,0,0.012) 100%)"></div>
</div>
<div class="rowsh" style="left:553.1px;top:342.8px"></div><div class="row" style="left:553.1px;top:342.8px">
<svg class="flag" viewBox="0 0 52 28.6" preserveAspectRatio="none"><rect x="0" y="0" width="52" height="28.6" fill="#e03222"/><g transform="translate(17.300,4.300)" fill="#0a0a0a"><path d="M8,4.200 C7.400,3.400 7,2.600 6.600,2.200 C6.200,1.200 5.200,0.600 4.400,1.200 L3.100,2.300 L4.600,2.500 C5.200,2.900 5.600,3.600 5.800,4.600 L5.200,5.200 C4,4 2.400,3 0.300,3.100 C1,4 1.400,4.600 2,5 L0,6.200 C1,6.400 1.800,6.800 2.400,7.200 L0.500,8.800 C1.600,8.800 2.600,9 3.200,9.200 L1.600,11 C2.600,10.800 3.600,10.800 4.200,10.800 L3,12.800 C4,12.400 4.800,12 5.400,11.800 L4.800,13.800 C5.600,13.400 6.200,12.800 6.600,12.400 L6.400,13.600 L4.400,15.400 L4.200,16.800 L5.200,15.900 L5.400,17.200 L6.200,15.700 L6.800,16.800 L7,14.600 L7.200,14.600 L6.200,18.500 L7.400,17.300 L8,18.700 Z"/><path transform="translate(16,0) scale(-1,1)" d="M8,4.200 C7.400,3.400 7,2.600 6.600,2.200 C6.200,1.200 5.200,0.600 4.400,1.200 L3.100,2.300 L4.600,2.500 C5.200,2.900 5.600,3.600 5.800,4.600 L5.200,5.200 C4,4 2.400,3 0.300,3.100 C1,4 1.400,4.600 2,5 L0,6.200 C1,6.400 1.800,6.800 2.400,7.200 L0.500,8.800 C1.600,8.800 2.600,9 3.200,9.200 L1.600,11 C2.600,10.800 3.600,10.800 4.200,10.800 L3,12.800 C4,12.400 4.800,12 5.400,11.800 L4.800,13.800 C5.600,13.400 6.200,12.800 6.600,12.400 L6.400,13.600 L4.400,15.400 L4.200,16.800 L5.200,15.900 L5.400,17.200 L6.200,15.700 L6.800,16.800 L7,14.600 L7.200,14.600 L6.200,18.500 L7.400,17.300 L8,18.700 Z"/></g></svg>
<div class="pink" style="background:rgb(232,48,142)"></div><div class="white"></div>
<div class="num">2<i>1</i></div><div class="name"><span style="transform:scaleX(0.8211)">ALBANIA</span></div><div class="score"><i>1</i>7</div>
<div class="dim" style="background:linear-gradient(180deg,rgba(0,0,8,0.000),rgba(0,0,8,0.024))"></div><div class="dimw" style="background:linear-gradient(90deg,rgba(0,0,0,0) 0%,rgba(0,0,0,0.035) 25%,rgba(0,0,0,0.063) 55%,rgba(0,0,0,0.044) 80%,rgba(0,0,0,0.024) 100%)"></div>
</div>
<div class="rowsh" style="left:553.1px;top:377.3px"></div><div class="row" style="left:553.1px;top:377.3px">
<svg class="flag" viewBox="0 0 52 28.6" preserveAspectRatio="none"><svg x="0" y="0" width="52" height="28.6" viewBox="0 0 60 30" preserveAspectRatio="none"><rect width="60" height="30" fill="#00007c"/><path d="M0,0 L60,30 M60,0 L0,30" stroke="#f4f4f4" stroke-width="6"/><path d="M0,1.2 L27.600,15 M60,-1.2 L32.400,12.600 M0,31.200 L27.600,17.400 M60,28.800 L32.400,15" stroke="#c03440" stroke-width="1.7"/><path d="M30,0 V30 M0,15 H60" stroke="#f4f4f4" stroke-width="10"/><path d="M30,0 V30 M0,15 H60" stroke="#c03440" stroke-width="5.800"/></svg></svg>
<div class="pink" style="background:rgb(228,47,140)"></div><div class="white"></div>
<div class="num">22</div><div class="name"><span style="transform:scaleX(0.8536)">UNITED KINGDOM</span></div><div class="score"><i>1</i>5</div>
<div class="dim" style="background:linear-gradient(180deg,rgba(0,0,8,0.039),rgba(0,0,8,0.063))"></div><div class="dimw" style="background:linear-gradient(90deg,rgba(0,0,0,0) 0%,rgba(0,0,0,0.045) 25%,rgba(0,0,0,0.083) 55%,rgba(0,0,0,0.058) 80%,rgba(0,0,0,0.033) 100%)"></div>
</div>
<div class="rowsh" style="left:553.1px;top:411.7px"></div><div class="row" style="left:553.1px;top:411.7px">
<svg class="flag" viewBox="0 0 52 28.6" preserveAspectRatio="none"><rect x="0" y="0" width="52" height="9.1" fill="#c8423c"/><rect x="0" y="8.8" width="52" height="9.5" fill="#3a76b8"/><rect x="0" y="18.0" width="52" height="10.9" fill="#f4f4f4"/><g><path d="M12.600,9.800 h11 v8 c0,3.600 -3,5.600 -5.500,6.600 c-2.500,-1 -5.500,-3 -5.500,-6.600 z" fill="#e9e1d2" stroke="#b8504a" stroke-width="0.900"/><path d="M14.200,11 l1.400,1.600 l1.200,-1.400 l1.300,1 l1.300,-1 l1.200,1.400 l1.400,-1.600 l-0.400,4 l0.800,3 l-2,2.600 l-2.300,2.200 l-2.300,-2.200 l-2,-2.600 l0.800,-3 z" fill="#f4f0e6"/><rect x="16.300" y="13.400" width="3.600" height="5.200" rx="0.600" fill="#c0443c"/><rect x="17.700" y="13.400" width="0.800" height="5.200" fill="#f0e8d8"/><rect x="16.300" y="15.600" width="3.600" height="0.800" fill="#f0e8d8"/><path d="M13.200,9.600 l0.300,-3 l1.500,0.600 l0.900,-2 l2.200,-1.400 l2.200,1.400 l0.900,2 l1.500,-0.600 l0.300,3 z" fill="#c9a060"/><rect x="17.700" y="2.800" width="0.800" height="1.600" fill="#c9a060"/><path d="M14,8 h8.200 v1 h-8.200 z" fill="#a8503c"/></g></svg>
<div class="pink" style="background:rgb(224,46,137)"></div><div class="white"></div>
<div class="num">23</div><div class="name"><span style="transform:scaleX(0.8248)">SERBIA</span></div><div class="score"><i>1</i>4</div>
<div class="dim" style="background:linear-gradient(180deg,rgba(0,0,8,0.078),rgba(0,0,8,0.102))"></div><div class="dimw" style="background:linear-gradient(90deg,rgba(0,0,0,0) 0%,rgba(0,0,0,0.057) 25%,rgba(0,0,0,0.103) 55%,rgba(0,0,0,0.073) 80%,rgba(0,0,0,0.043) 100%)"></div>
</div>
<div class="rowsh" style="left:553.1px;top:446.1px"></div><div class="row" style="left:553.1px;top:446.1px">
<svg class="flag" viewBox="0 0 52 28.6" preserveAspectRatio="none"><rect x="0" y="0" width="52" height="14.6" fill="#f2f2f2"/><rect x="0" y="14.3" width="52" height="14.6" fill="#c23446"/></svg>
<div class="pink" style="background:rgb(219,45,134)"></div><div class="white"></div>
<div class="num">24</div><div class="name"><span style="transform:scaleX(0.8373)">POLAND</span></div><div class="score"><i>1</i>2</div>
<div class="dim" style="background:linear-gradient(180deg,rgba(0,0,8,0.117),rgba(0,0,8,0.141))"></div><div class="dimw" style="background:linear-gradient(90deg,rgba(0,0,0,0) 0%,rgba(0,0,0,0.059) 25%,rgba(0,0,0,0.108) 55%,rgba(0,0,0,0.081) 80%,rgba(0,0,0,0.054) 100%)"></div>
</div>
<div class="rowsh" style="left:553.1px;top:480.6px"></div><div class="row" style="left:553.1px;top:480.6px">
<svg class="flag" viewBox="0 0 52 28.6" preserveAspectRatio="none"><rect x="0" y="0" width="52" height="9.83" fill="#d23a2a"/><rect x="0" y="9.53" width="52" height="9.83" fill="#f6f6f6"/><rect x="0" y="19.07" width="52" height="9.83" fill="#2a3a9c"/><g><path d="M19.800,7.200 h10.400 v8.800 c0,3 -3,4.800 -5.200,5.400 c-2.200,-0.600 -5.200,-2.400 -5.200,-5.400 z" fill="#f8f8f8"/><rect x="19.80" y="7.20" width="2.08" height="2.300" fill="#d03a34"/><rect x="23.96" y="7.20" width="2.08" height="2.300" fill="#d03a34"/><rect x="28.12" y="7.20" width="2.08" height="2.300" fill="#d03a34"/><rect x="21.88" y="9.50" width="2.08" height="2.300" fill="#d03a34"/><rect x="26.04" y="9.50" width="2.08" height="2.300" fill="#d03a34"/><rect x="19.80" y="11.80" width="2.08" height="2.300" fill="#d03a34"/><rect x="23.96" y="11.80" width="2.08" height="2.300" fill="#d03a34"/><rect x="28.12" y="11.80" width="2.08" height="2.300" fill="#d03a34"/><rect x="21.88" y="14.10" width="2.08" height="2.300" fill="#d03a34"/><rect x="26.04" y="14.10" width="2.08" height="2.300" fill="#d03a34"/><rect x="19.80" y="16.40" width="2.08" height="2.300" fill="#d03a34"/><rect x="23.96" y="16.40" width="2.08" height="2.300" fill="#d03a34"/><rect x="28.12" y="16.40" width="2.08" height="2.300" fill="#d03a34"/><rect x="21.88" y="18.70" width="2.08" height="2.300" fill="#d03a34"/><rect x="26.04" y="18.70" width="2.08" height="2.300" fill="#d03a34"/><path d="M19.600,7 l0.600,-3.400 l2,1.200 l1.400,-1.600 l1.400,1.200 l1.400,-1.200 l1.400,1.600 l2,-1.200 l0.600,3.400 z" fill="#5a8ad0"/></g></svg>
<div class="pink" style="background:rgb(214,44,131)"></div><div class="white"></div>
<div class="num">25</div><div class="name"><span style="transform:scaleX(0.8302)">CROATIA</span></div><div class="score"><i>1</i><i>1</i></div>
<div class="dim" style="background:linear-gradient(180deg,rgba(0,0,8,0.161),rgba(0,0,8,0.185))"></div><div class="dimw" style="background:linear-gradient(90deg,rgba(0,0,0,0) 0%,rgba(0,0,0,0.063) 25%,rgba(0,0,0,0.114) 55%,rgba(0,0,0,0.088) 80%,rgba(0,0,0,0.062) 100%)"></div>
</div>
<div class="rowsh" style="left:553.1px;top:515.0px"></div><div class="row" style="left:553.1px;top:515.0px">
<svg class="flag" viewBox="0 0 52 28.6" preserveAspectRatio="none"><rect x="0" y="0" width="52" height="9.83" fill="#050505"/><rect x="0" y="9.53" width="52" height="9.83" fill="#c8321f"/><rect x="0" y="19.07" width="52" height="9.83" fill="#e6bc34"/></svg>
<div class="pink" style="background:rgb(207,43,127)"></div><div class="white"></div>
<div class="num">26</div><div class="name"><span style="transform:scaleX(0.8325)">GERMANY</span></div><div class="score">3</div>
<div class="dim" style="background:linear-gradient(180deg,rgba(0,0,8,0.204),rgba(0,0,8,0.228))"></div><div class="dimw" style="background:linear-gradient(90deg,rgba(0,0,0,0) 0%,rgba(0,0,0,0.066) 25%,rgba(0,0,0,0.120) 55%,rgba(0,0,0,0.095) 80%,rgba(0,0,0,0.070) 100%)"></div>
</div>
<div class="kvf"><div class="kl"><svg viewBox="0 0 23 23" width="23" height="23"><path d="M8.4,0 C6.300,3 5.600,6.500 5.500,10" fill="none" stroke="#c4c4e8" stroke-width="1.700" stroke-linecap="round"/><path d="M13.100,-0.500 C9.300,7 9.400,15.500 14.600,23.500" fill="none" stroke="#c8c8ea" stroke-width="3.300"/><path d="M14.400,13.500 C14.900,17 16.200,20.200 18.400,23.200" fill="none" stroke="#c4c4e8" stroke-width="1.400"/></svg></div><div class="kr"><span>KVF</span></div></div>

</body></html>
